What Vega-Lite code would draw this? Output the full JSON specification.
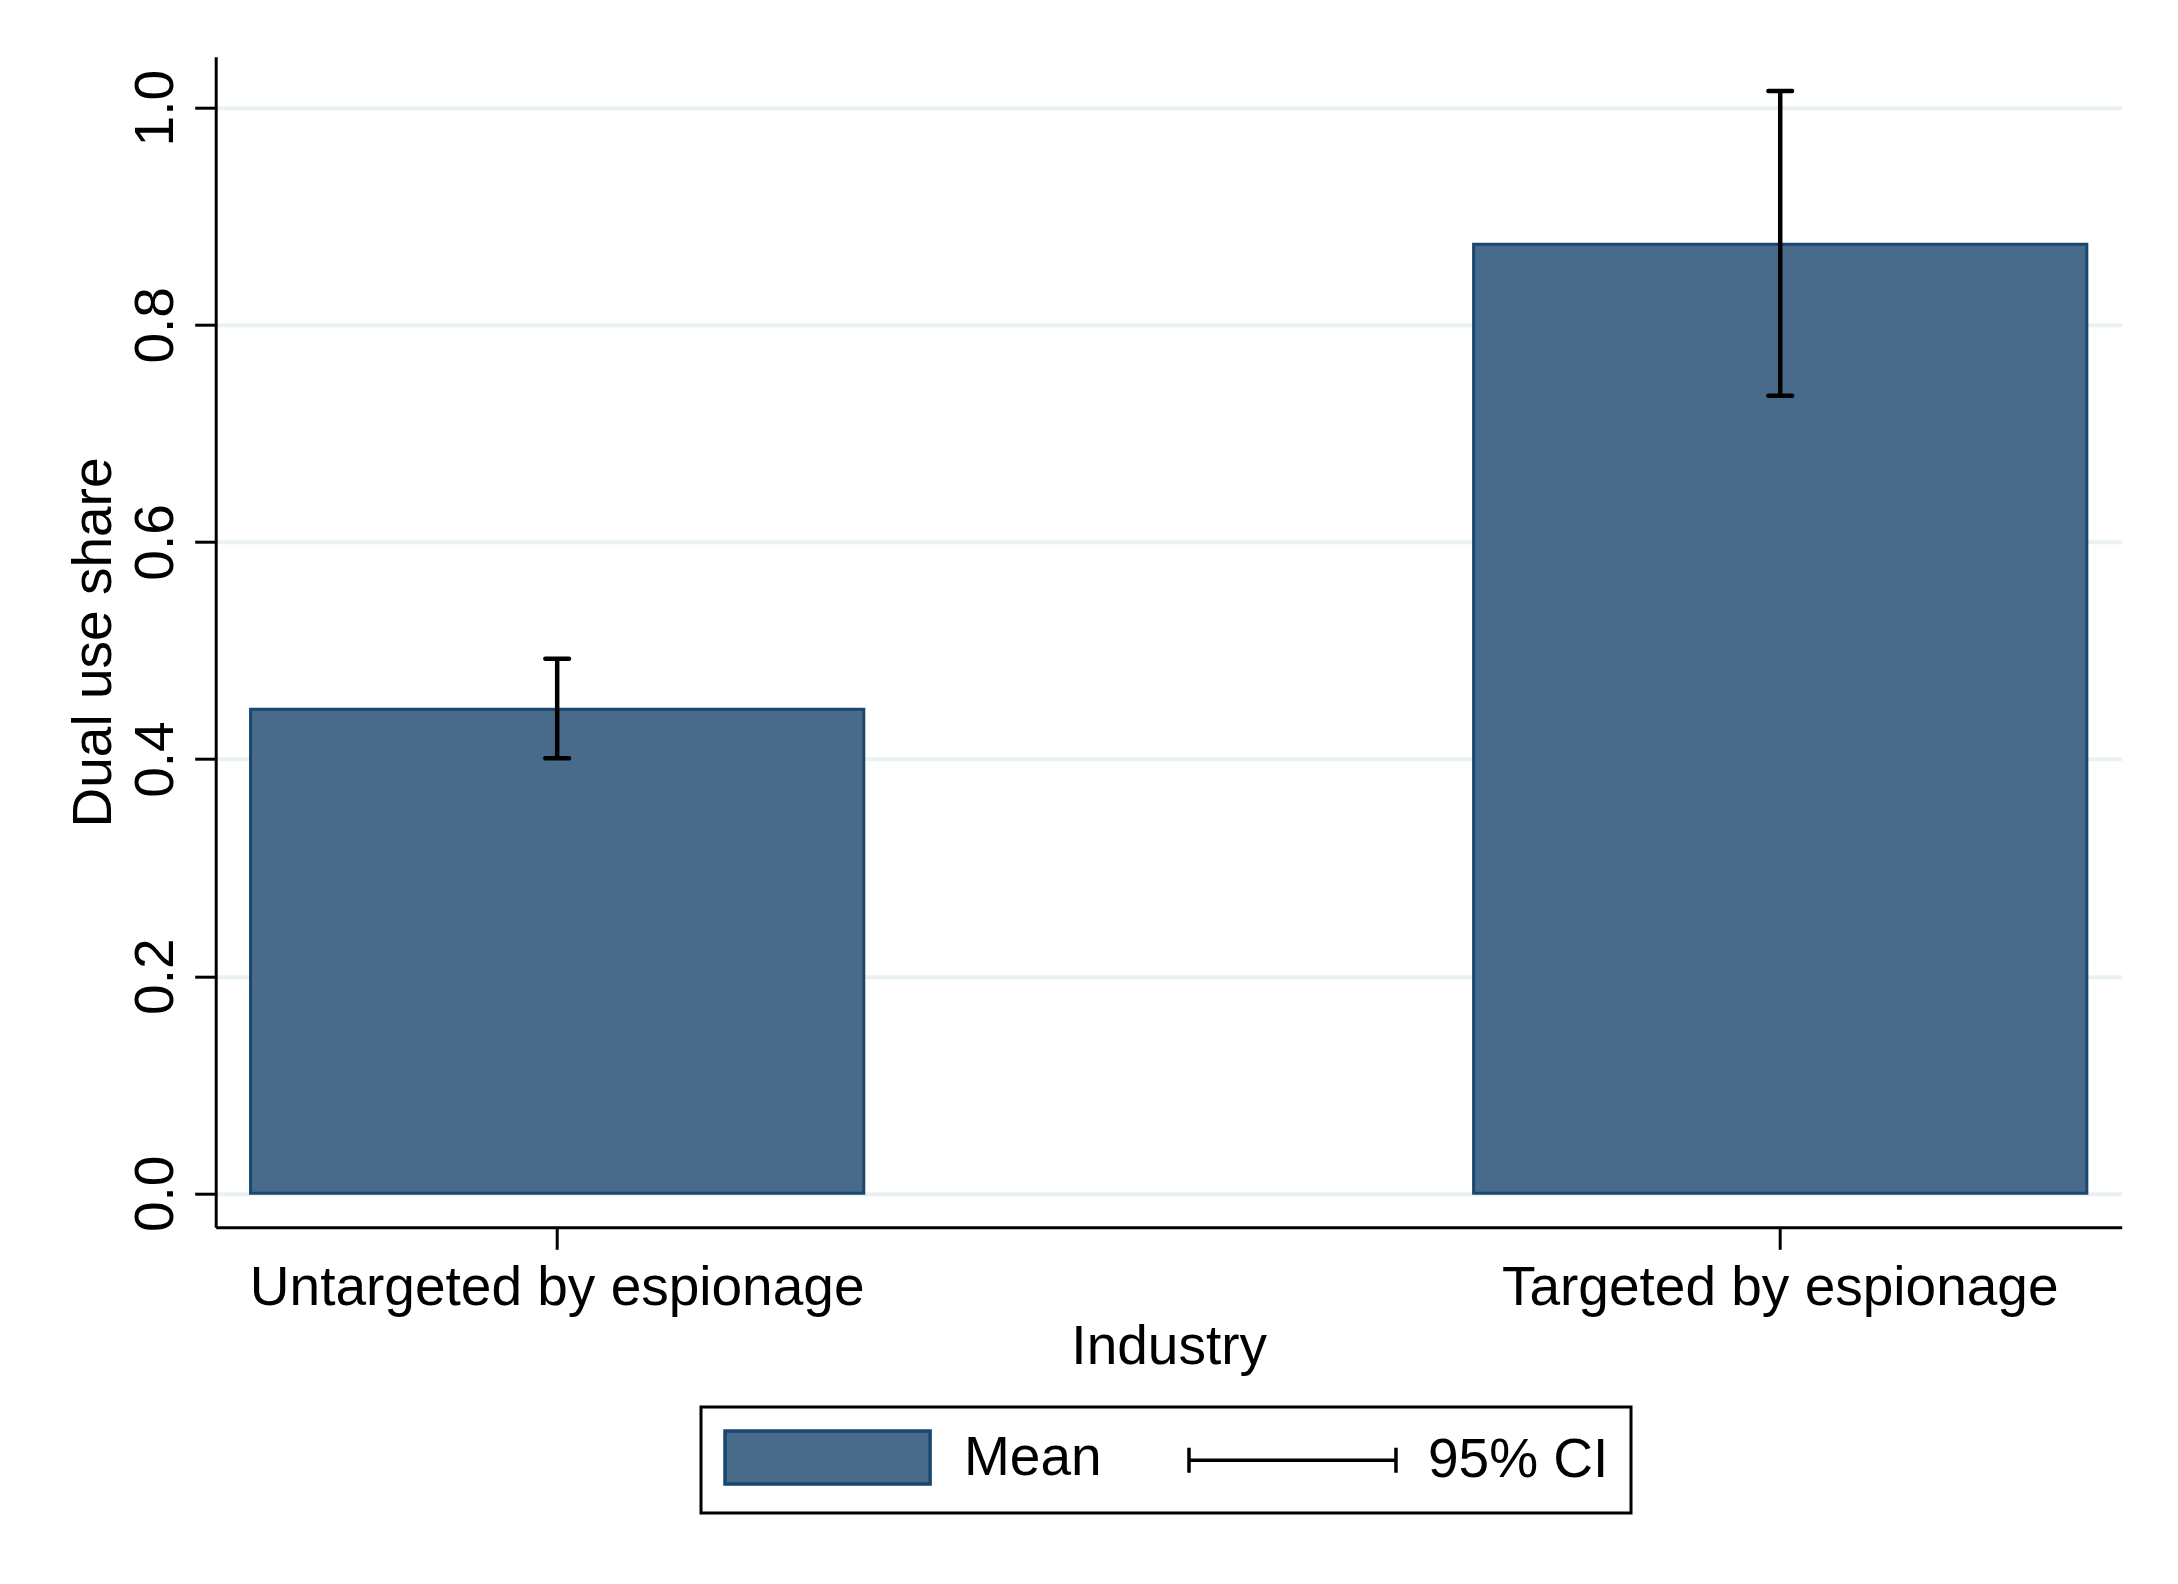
{
  "$schema": "https://vega.github.io/schema/vega-lite/v6.json",
  "autosize": {"type": "none"},
  "padding": {"left": 215.7, "top": 56.7, "right": 56.3, "bottom": 356.7},
  "width": 1906,
  "height": 1170.6,
  "background": "white",
  "data": {
    "values": [
      {"industry": "Untargeted by espionage", "mean": 0.446, "lo": 0.4007, "hi": 0.4925},
      {"industry": "Targeted by espionage", "mean": 0.8742, "lo": 0.7347, "hi": 1.0154}
    ]
  },
  "encoding": {
    "x": {
      "field": "industry",
      "type": "nominal",
      "sort": ["Untargeted by espionage", "Targeted by espionage"],
      "scale": {"paddingInner": 0.4986, "paddingOuter": 0.0285},
      "title": "Industry",
      "axis": {
        "labelAngle": 0,
        "labelFontSize": 55,
        "labelLimit": 1000,
        "labelPadding": 12,
        "tickSize": 22,
        "tickWidth": 3,
        "tickColor": "black",
        "domainWidth": 3,
        "domainColor": "black",
        "labelColor": "black",
        "titleFontSize": 55,
        "titleFontWeight": "normal",
        "titleColor": "black",
        "titlePadding": 5,
        "grid": false
      }
    }
  },
  "layer": [
    {
      "mark": {"type": "bar", "color": "#486b8b", "stroke": "#1a476f", "strokeWidth": 3},
      "encoding": {
        "y": {
          "field": "mean",
          "type": "quantitative",
          "title": "Dual use share",
          "scale": {"domain": [-0.0313, 1.047], "nice": false, "zero": false},
          "axis": {
            "values": [0, 0.2, 0.4, 0.6, 0.8, 1.0],
            "format": ".1f",
            "labelAngle": -90,
            "labelAlign": "center",
            "labelBaseline": "alphabetic",
            "labelFontSize": 55,
            "labelPadding": 22,
            "labelColor": "black",
            "tickSize": 21,
            "tickWidth": 3,
            "tickColor": "black",
            "domainWidth": 3,
            "domainColor": "black",
            "grid": true,
            "gridColor": "#eaf1f3",
            "gridWidth": 4,
            "titleFontSize": 55,
            "titleFontWeight": "normal",
            "titleColor": "black",
            "titlePadding": 6
          }
        }
      }
    },
    {
      "mark": {"type": "rule", "strokeWidth": 4.5, "color": "black"},
      "encoding": {
        "y": {"field": "lo", "type": "quantitative"},
        "y2": {"field": "hi"}
      }
    },
    {
      "mark": {"type": "tick", "size": 28, "thickness": 4.5, "opacity": 1, "cornerRadius": 2, "color": "black"},
      "encoding": {
        "y": {"field": "lo", "type": "quantitative"}
      }
    },
    {
      "mark": {"type": "tick", "size": 28, "thickness": 4.5, "opacity": 1, "cornerRadius": 2, "color": "black"},
      "encoding": {
        "y": {"field": "hi", "type": "quantitative"}
      }
    },
    {
      "mark": {"type": "point", "filled": true, "size": 0, "opacity": 1, "strokeWidth": 3.5},
      "encoding": {
        "y": {"field": "mean", "type": "quantitative"},
        "fill": {
          "datum": "Mean",
          "scale": {"domain": ["Mean", "95% CI"], "range": ["#486b8b", "transparent"]},
          "legend": {
            "title": null,
            "orient": "none",
            "legendX": 485.3,
            "legendY": 1350.3,
            "direction": "horizontal",
            "padding": 22,
            "strokeColor": "black",
            "fillColor": "white",
            "symbolSize": 2809,
            "symbolStrokeWidth": 3.5,
            "labelFontSize": 55,
            "labelColor": "black",
            "labelOffset": 184,
            "columnPadding": 80,
            "labelLimit": 400
          }
        },
        "stroke": {
          "datum": "Mean",
          "scale": {"domain": ["Mean", "95% CI"], "range": ["#1a476f", "black"]},
          "legend": {
            "title": null,
            "orient": "none",
            "legendX": 485.3,
            "legendY": 1350.3,
            "direction": "horizontal",
            "padding": 22,
            "strokeColor": "black",
            "fillColor": "white",
            "symbolSize": 2809,
            "symbolStrokeWidth": 3.5,
            "labelFontSize": 55,
            "labelColor": "black",
            "labelOffset": 184,
            "columnPadding": 80,
            "labelLimit": 400
          }
        },
        "shape": {
          "datum": "Mean",
          "scale": {
            "domain": ["Mean", "95% CI"],
            "range": ["M-1,-1H6.74V1H-1Z", "M-1,0H6.81M-1,-0.47V0.47M6.81,-0.47V0.47"]
          },
          "legend": {
            "title": null,
            "orient": "none",
            "legendX": 485.3,
            "legendY": 1350.3,
            "direction": "horizontal",
            "padding": 22,
            "strokeColor": "black",
            "fillColor": "white",
            "symbolSize": 2809,
            "symbolStrokeWidth": 3.5,
            "labelFontSize": 55,
            "labelColor": "black",
            "labelOffset": 184,
            "columnPadding": 80,
            "labelLimit": 400
          }
        }
      }
    }
  ],
  "config": {
    "font": "Liberation Sans",
    "view": {"stroke": null},
    "legend": {"strokeWidth": 3}
  }
}
